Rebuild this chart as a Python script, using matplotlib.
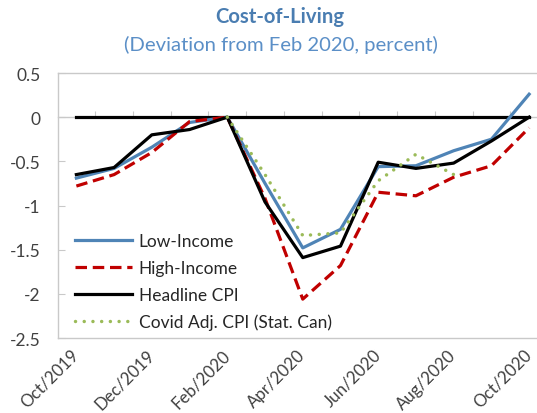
import matplotlib
matplotlib.use("Agg")
import matplotlib.pyplot as plt
import numpy as np
from matplotlib.ticker import FormatStrFormatter

# data (percent deviation from Feb 2020)
months = ["Oct/2019", "Nov/2019", "Dec/2019", "Jan/2020", "Feb/2020", "Mar/2020", "Apr/2020",
          "May/2020", "Jun/2020", "Jul/2020", "Aug/2020", "Sep/2020", "Oct/2020"]
low_income = [-0.69, -0.58, -0.34, -0.06, 0.0, -0.75, -1.48, -1.27, -0.56, -0.55, -0.38, -0.25, 0.26]
high_income = [-0.78, -0.65, -0.40, -0.05, 0.0, -0.92, -2.06, -1.68, -0.85, -0.89, -0.68, -0.55, -0.12]
headline_cpi = [-0.65, -0.57, -0.20, -0.14, 0.0, -0.96, -1.59, -1.46, -0.51, -0.58, -0.52, -0.27, 0.0]
covid_adj = [np.nan, np.nan, np.nan, np.nan, 0.0, -0.65, -1.34, -1.31, -0.72, -0.42, -0.65, np.nan, np.nan]
zero_line = [0, 0, 0, 0, 0, 0, 0, 0, 0, 0, 0, 0, 0]

plt.rcParams["font.family"] = ["Lato", "DejaVu Sans"]
plt.rcParams["axes.unicode_minus"] = False

W, H = 537, 414
fig = plt.figure(figsize=(W / 100, H / 100), dpi=100)
# plot area runs past the right edge, like the cropped original
ax = fig.add_axes([57.5 / W, 1 - 339 / H, (548 - 57.5) / W, 265 / H])

gray = "#c9c9c9"
x = np.arange(len(months))

ax.plot(x, zero_line, color="black", lw=2.3, zorder=2)
ax.plot(x, low_income, color="#4f84b6", lw=2.3, label="Low-Income", zorder=3)
ax.plot(x, high_income, color="#c00000", lw=2.3, dashes=(3.6, 1.8), label="High-Income", zorder=4)
ax.plot(x, headline_cpi, color="black", lw=2.3, label="Headline CPI", zorder=5)
ax.plot(x, covid_adj, color="#9bbb59", lw=2.5, dashes=(0.01, 2.5), dash_capstyle="round",
        label="Covid Adj. CPI (Stat. Can)", zorder=6)

ax.set_xlim(-0.5, len(months) - 0.5)
ax.set_ylim(-2.5, 0.5)

for s in ax.spines.values():
    s.set_color(gray)
    s.set_linewidth(1)

ax.set_yticks(np.arange(-2.5, 0.51, 0.5))
ax.yaxis.set_major_formatter(FormatStrFormatter("%g"))
ax.tick_params(axis="y", direction="in", length=5, color=gray, pad=12,
               labelsize=12.5, labelcolor="#404040")

ax.set_xticks(x[::2])
ax.set_xticklabels(months[::2], rotation=45, ha="right", va="center", rotation_mode="anchor")
ax.tick_params(axis="x", length=0, pad=10, labelsize=12.2, labelcolor="#404040")

# category axis crossing at zero, ticks between categories
sec = ax.secondary_xaxis(0, transform=ax.transData)
sec.set_xticks(x[:-1] + 0.5)
sec.set_xticklabels([])
sec.tick_params(direction="in", length=4, color=gray)
sec.spines["bottom"].set_color(gray)
sec.spines["bottom"].set_linewidth(1)

ax.legend(loc="upper left", bbox_to_anchor=(0.036, 0.396), frameon=False, fontsize=12.5,
          borderpad=0, borderaxespad=0, handlelength=3.3, handletextpad=0.35,
          labelspacing=0.62, labelcolor="#262626")

fig.text(280 / W, 1 - 17 / H, "Cost-of-Living", ha="center", va="center",
         fontsize=14.6, fontweight="bold", color="#4a7db1")
fig.text(281 / W, 1 - 45 / H, "(Deviation from Feb 2020, percent)", ha="center", va="center",
         fontsize=14.6, color="#5b8fc7")

fig.savefig("out.png", dpi=100)
